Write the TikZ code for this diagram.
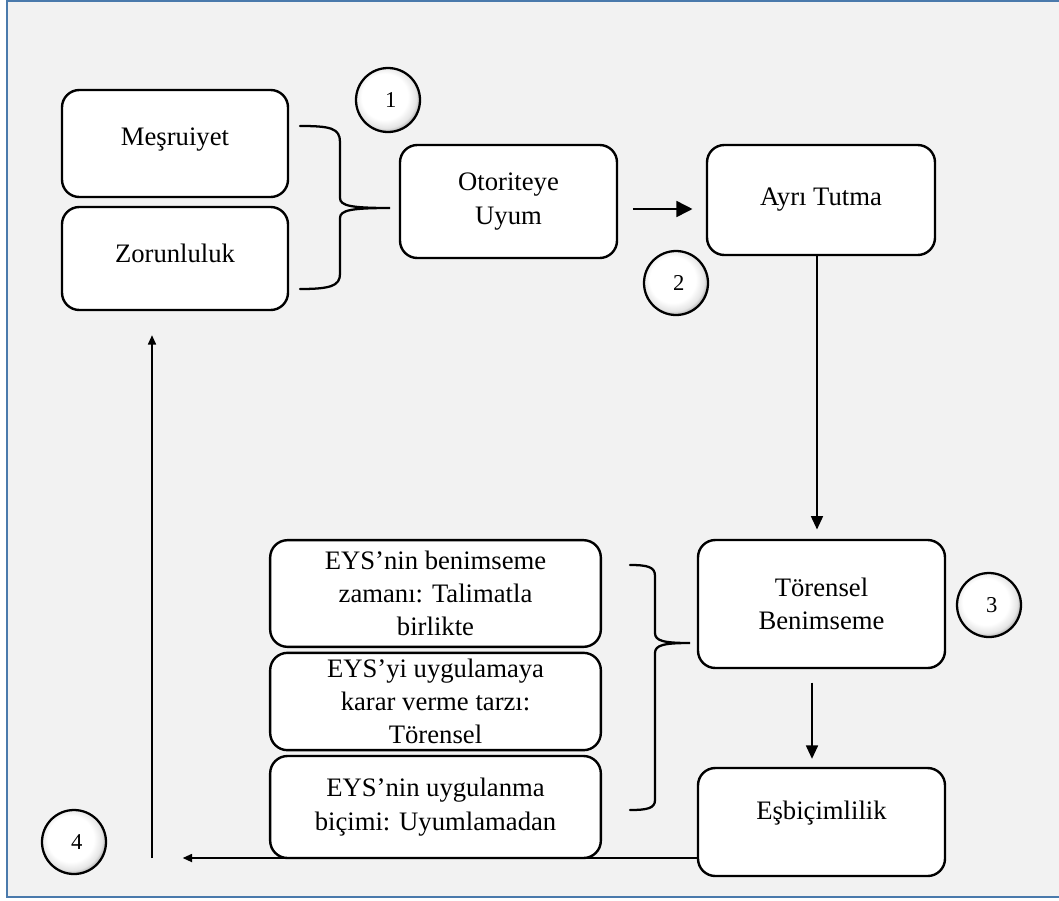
\documentclass[tikz,border=0pt]{standalone}
\usepackage{fontspec}
\setmainfont{Liberation Serif}
\usetikzlibrary{arrows.meta}
\definecolor{framebg}{RGB}{242,242,242}
\definecolor{frameline}{RGB}{74,122,172}
% white sphere that darkens towards the lower right rim
\pgfdeclareradialshading{sphere}{\pgfpoint{-4bp}{4bp}}{%
  color(0bp)=(white); color(18bp)=(white); color(24bp)=(black!10);
  color(28bp)=(black!38); color(31bp)=(black!55); color(50bp)=(black!55)}
\newcommand{\lift}[2]{\raisebox{#1}[\height][\depth]{#2}}
\tikzset{
  box/.style={draw=black, line width=1.8pt, fill=white, rounded corners=13pt,
    align=center, inner sep=2pt, font=\fontsize{20}{25}\selectfont},
  num/.style={circle, draw=black, line width=1.7pt, shade, shading=sphere,
    minimum size=48pt, inner sep=0pt, font=\fontsize{17}{20}\selectfont},
  arr/.style={line width=1.2pt, -{Triangle[length=10pt,width=9pt]}},
  bigarr/.style={line width=1.2pt, -{Triangle[length=12pt,width=12pt]}},
  smallarr/.style={line width=1.2pt, -{Triangle[length=7pt,width=6pt]}},
  brace/.style={line width=1.7pt, line cap=round}
}
\begin{document}
\begin{tikzpicture}[x=0.75pt,y=-0.75pt]
  % page and frame
  \useasboundingbox (0,0) rectangle (1059,900);
  \fill[white] (0,0) rectangle (1059,900);
  \begin{scope}
    \clip (0,0) rectangle (1059,900);
    \draw[frameline, fill=framebg, line width=2pt] (7,1) rectangle (1080,897);
  \end{scope}

  % boxes
  \node[box, minimum width=169.5pt, minimum height=80.25pt] (mes) at (175,143.5) {\lift{3pt}{Meşruiyet}};
  \node[box, minimum width=169.5pt, minimum height=77.25pt] (zor) at (175,258.5) {\lift{4pt}{Zorunluluk}};
  \node[box, minimum width=162.75pt, minimum height=84.75pt] (oto) at (508.5,201.5) {Otoriteye\\Uyum};
  \node[box, minimum width=171pt, minimum height=82.5pt] (ayr) at (821,200) {Ayrı Tutma};
  \node[box, minimum width=185.25pt, minimum height=96pt] (tor) at (821.5,604) {Törensel\\Benimseme};
  \node[box, minimum width=185.25pt, minimum height=81pt] (esb) at (821.5,822) {\lift{7pt}{Eşbiçimlilik}};
  \node[box, minimum width=248pt, minimum height=80pt] (s1) at (435.5,593.5) {EYS’nin benimseme\\zamanı: Talimatla\\birlikte};
  \node[box, minimum width=248pt, minimum height=73pt] (s2) at (435.5,701.5) {EYS’yi uygulamaya\\karar verme tarzı:\\Törensel};
  \node[box, minimum width=248pt, minimum height=76.5pt] (s3) at (435.5,807) {EYS’nin uygulanma\\biçimi: Uyumlamadan};

  % numbered markers
  \node[num] (c1) at (388,100) {\hspace{4pt}1};
  \node[num] (c2) at (676,283) {\hspace{4pt}2};
  \node[num] (c3) at (989,605) {\hspace{4pt}3};
  \node[num] (c4) at (74,842) {\hspace{4pt}4};

  % braces
  \draw[brace] (300,126) .. controls (330,126) and (340,128) .. (340,142)
    -- (340,198) .. controls (340,206) and (352,208) .. (390,208)
    .. controls (352,208) and (340,210) .. (340,218)
    -- (340,274) .. controls (340,286) and (330,289) .. (300,289);
  \draw[brace] (630,565) .. controls (648,565) and (655,567) .. (655,576)
    -- (655,633) .. controls (655,641) and (664,643) .. (690,643)
    .. controls (664,643) and (655,645) .. (655,653)
    -- (655,800) .. controls (655,808) and (648,810) .. (630,810);

  % flow
  \coordinate (loop) at (152,858);
  \draw[bigarr, shorten <=11pt, shorten >=10pt] (oto.east |- 0,209) -- (ayr.west |- 0,209);
  \draw[arr, shorten >=7pt] (ayr.south -| 817,0) -- (tor.north -| 817,0);
  \draw[arr, shorten <=10pt, shorten >=6pt] (tor.south -| 812,0) -- (esb.north -| 812,0);
  \draw[smallarr, shorten >=23pt] (esb.west |- loop) -- (loop);
  \draw[smallarr, shorten >=18pt] (loop) -- (loop |- zor.south);
\end{tikzpicture}
\end{document}
